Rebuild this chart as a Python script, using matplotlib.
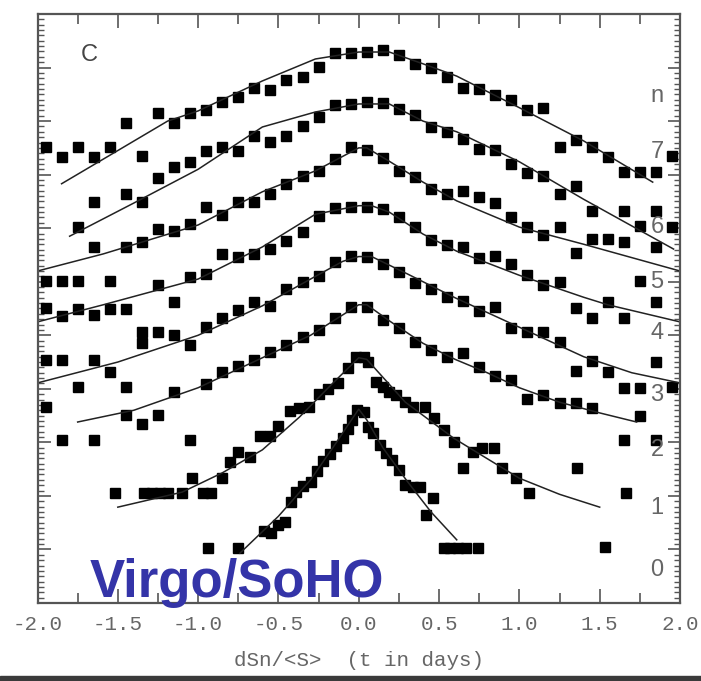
import numpy as np
import matplotlib
matplotlib.use('Agg')
import matplotlib.pyplot as plt
from matplotlib.ticker import MultipleLocator, FormatStrFormatter
from matplotlib.patches import Rectangle

# bin centres shared by the n = 2..7 profiles
bins = [-1.95, -1.85, -1.75, -1.65, -1.55, -1.45, -1.35, -1.25, -1.15, -1.05,
        -0.95, -0.85, -0.75, -0.65, -0.55, -0.45, -0.35, -0.25, -0.15, -0.05,
        0.05, 0.15, 0.25, 0.35, 0.45, 0.55, 0.65, 0.75, 0.85, 0.95,
        1.05, 1.15, 1.25, 1.35, 1.45, 1.55, 1.65, 1.75, 1.85, 1.95]
nan = np.nan

n7 = [8.52, 8.33, 8.52, 8.33, 8.52, 8.96, 8.35, 9.15, 8.96, 9.15,
      9.21, 9.36, 9.45, 9.62, 9.58, 9.77, 9.82, 10.01, 10.27, 10.27,
      10.29, 10.33, 10.23, 10.07, 9.99, 9.82, 9.62, 9.60, 9.49, 9.39,
      9.21, 9.24, 8.52, 8.65, 8.52, 8.33, 8.05, 8.05, 8.05, 8.35]
n6 = [nan, nan, 7.02, 7.49, nan, 7.64, 7.49, 7.94, 8.14, 8.24,
      8.44, 8.52, 8.44, 8.72, 8.61, 8.72, 8.91, 9.08, 9.30, 9.32,
      9.36, 9.34, 9.23, 9.11, 8.89, 8.80, 8.66, 8.48, 8.46, 8.20,
      8.03, 7.97, 7.64, 7.79, 7.32, nan, 7.32, 7.04, 7.32, 7.02]
n5 = [6.01, 6.01, 6.01, 6.65, 6.01, 6.65, 6.74, 6.98, 6.95, 7.08,
      7.39, 7.25, 7.49, 7.49, 7.64, 7.82, 7.97, 8.07, 8.29, 8.52,
      8.46, 8.31, 8.07, 7.96, 7.73, 7.64, 7.69, 7.58, 7.47, 7.21,
      7.02, 6.87, 7.02, 6.54, 6.80, 6.80, 6.74, 6.01, 6.65, nan]
n4 = [5.51, 5.36, 5.49, 5.38, 5.49, 5.49, 5.06, 5.94, 5.62, 6.09,
      6.14, 6.51, 6.47, 6.51, 6.61, 6.76, 6.92, 7.22, 7.38, 7.40,
      7.39, 7.36, 7.21, 7.02, 6.78, 6.69, 6.65, 6.44, 6.48, 6.33,
      6.13, 5.94, 5.99, 5.51, 5.32, 5.62, 5.32, nan, 5.62, nan]
n3 = [4.54, 4.54, 4.03, 4.54, 4.31, 4.03, 4.86, 5.06, 5.00, 4.82,
      5.15, 5.32, 5.47, 5.62, 5.55, 5.86, 5.99, 6.11, 6.37, 6.48,
      6.46, 6.33, 6.18, 5.98, 5.86, 5.71, 5.64, 5.45, 5.53, 5.14,
      5.06, 5.06, 4.87, 4.33, 4.52, 4.31, 4.01, 4.01, 4.50, 4.03]
n2 = [3.66, 3.04, nan, 3.04, nan, 3.51, 3.34, 3.51, 3.94, 3.04,
      4.09, 4.31, 4.42, 4.54, 4.69, 4.82, 4.96, 5.10, 5.32, 5.53,
      5.53, 5.28, 5.14, 4.87, 4.72, 4.59, 4.67, 4.41, 4.24, 4.16,
      3.81, 3.88, 3.73, 3.73, 3.64, nan, 3.04, 3.49, 3.04, nan]

# n = 1 and n = 0 are sampled more finely
n1_x = [-1.52, -1.34, -1.29, -1.24, -1.19, -1.10, -1.04, -0.97, -0.92, -0.85,
        -0.80, -0.75, -0.68, -0.615, -0.55, -0.50, -0.43, -0.37, -0.31, -0.25,
        -0.19, -0.13, -0.07, -0.02, 0.03, 0.06, 0.11, 0.15, 0.19, 0.23,
        0.29, 0.34, 0.41, 0.47, 0.53, 0.59, 0.65, 0.71, 0.77, 0.84,
        0.89, 0.98, 1.06, 1.36, 1.665]
n1_y = [2.05, 2.05, 2.05, 2.05, 2.05, 2.05, 2.33, 2.05, 2.05, 2.33,
        2.63, 2.82, 2.73, 3.12, 3.12, 3.31, 3.59, 3.64, 3.66, 3.90,
        4.00, 4.11, 4.39, 4.59, 4.59, 4.50, 4.13, 4.03, 3.94, 3.88,
        3.75, 3.66, 3.66, 3.45, 3.23, 3.01, 2.52, 2.82, 2.89, 2.89,
        2.52, 2.33, 2.05, 2.52, 2.05]
n0_x = [-0.94, -0.75, -0.59, -0.547, -0.50, -0.46, -0.42, -0.39, -0.35, -0.30,
        -0.26, -0.22, -0.18, -0.14, -0.10, -0.07, -0.04, -0.01, 0.03, 0.06,
        0.09, 0.13, 0.17, 0.21, 0.25, 0.29, 0.34, 0.38, 0.42, 0.46,
        0.53, 0.57, 0.62, 0.67, 0.74, 1.535]
n0_y = [1.03, 1.03, 1.34, 1.31, 1.46, 1.51, 1.89, 2.07, 2.18, 2.26,
        2.46, 2.65, 2.78, 2.93, 3.08, 3.25, 3.42, 3.60, 3.57, 3.29,
        3.17, 2.95, 2.80, 2.67, 2.48, 2.20, 2.17, 2.17, 1.64, 1.96,
        1.03, 1.03, 1.03, 1.03, 1.03, 1.05]

# fitted profiles
fit7_x = [-1.85, -1.5, -1.19, -1.0, -0.6, -0.27, 0.0, 0.19, 0.4, 0.61, 1.0, 1.4, 1.83]
fit7_y = [7.83, 8.45, 9.00, 9.19, 9.75, 10.16, 10.29, 10.29, 10.07, 9.84, 9.25, 8.63, 7.86]
fit6_x = [-1.8, -1.4, -1.0, -0.6, -0.27, 0.0, 0.19, 0.4, 0.61, 1.0, 1.4, 1.96]
fit6_y = [6.85, 7.47, 8.10, 8.89, 9.17, 9.32, 9.32, 9.00, 8.80, 8.24, 7.54, 6.61]
fit5_x = [-2.0, -1.59, -1.0, -0.6, -0.27, 0.0, 0.05, 0.19, 0.4, 0.61, 1.0, 1.4, 2.0]
fit5_y = [6.20, 6.52, 7.06, 7.68, 8.07, 8.50, 8.50, 8.25, 7.86, 7.51, 7.02, 6.70, 6.20]
fit4_x = [-2.0, -1.59, -1.0, -0.6, -0.27, 0.0, 0.08, 0.19, 0.4, 0.61, 1.0, 1.4, 1.55, 2.0]
fit4_y = [5.25, 5.57, 6.05, 6.65, 7.26, 7.42, 7.42, 7.30, 6.89, 6.57, 6.12, 5.71, 5.57, 5.25]
fit3_x = [-2.0, -1.5, -1.0, -0.6, -0.3, -0.1, 0.0, 0.08, 0.3, 0.6, 1.0, 1.4, 1.7, 2.0]
fit3_y = [4.11, 4.50, 5.00, 5.55, 6.05, 6.38, 6.47, 6.47, 6.15, 5.70, 5.15, 4.60, 4.30, 4.11]
fit2_x = [-1.75, -1.4, -1.0, -0.6, -0.3, -0.1, 0.0, 0.05, 0.2, 0.4, 0.6, 0.8, 1.0, 1.25, 1.5, 1.73]
fit2_y = [3.38, 3.60, 4.02, 4.58, 5.00, 5.38, 5.57, 5.57, 5.25, 4.85, 4.55, 4.30, 4.02, 3.75, 3.55, 3.38]
fit1_x = [-1.5, -1.1, -0.85, -0.6, -0.37, -0.16, 0.0, 0.05, 0.29, 0.59, 0.77, 1.0, 1.25, 1.5]
fit1_y = [1.79, 2.07, 2.43, 2.86, 3.47, 4.11, 4.58, 4.55, 3.75, 3.08, 2.75, 2.33, 2.03, 1.79]
fit0_x = [-0.74, -0.5, -0.3, -0.15, -0.05, 0.0, 0.05, 0.15, 0.3, 0.45, 0.61]
fit0_y = [0.93, 1.62, 2.30, 2.95, 3.40, 3.62, 3.42, 2.90, 2.28, 1.70, 1.18]

n_labels = ['n', '7', '6', '5', '4', '3', '2', '1', '0']
n_label_y = [9.47, 8.42, 7.02, 5.99, 5.04, 3.88, 2.86, 1.77, 0.62]

fig = plt.figure(figsize=(7.01, 6.81), dpi=100)
ax = fig.add_axes([37.5 / 701, 78 / 681, 642.5 / 701, 589 / 681])

frame = '#555555'
mk = dict(ls='none', marker='s', ms=7.3, color='black', mec='black')

for ys in [n7, n6, n5, n4, n3, n2]:
    ax.plot(bins, ys, **mk)
ax.plot(n1_x, n1_y, **mk)
ax.plot(n0_x, n0_y, **mk)

for fx, fy in [(fit7_x, fit7_y), (fit6_x, fit6_y), (fit5_x, fit5_y), (fit4_x, fit4_y),
               (fit3_x, fit3_y), (fit2_x, fit2_y), (fit1_x, fit1_y), (fit0_x, fit0_y)]:
    ax.plot(fx, fy, color='#222222', lw=1.1)

ax.set_xlim(-2.0, 2.0)
ax.set_ylim(0, 11)

ax.xaxis.set_major_locator(MultipleLocator(0.5))
ax.xaxis.set_minor_locator(MultipleLocator(0.25))
ax.xaxis.set_major_formatter(FormatStrFormatter('%.1f'))
ax.yaxis.set_major_locator(MultipleLocator(1))
ax.yaxis.set_minor_locator(MultipleLocator(0.1))
ax.tick_params(axis='both', which='both', direction='in', top=True, right=True, color=frame)
ax.tick_params(axis='x', which='major', length=10, width=1.2)
ax.tick_params(axis='x', which='minor', length=7, width=1.2)
ax.tick_params(axis='y', which='major', length=9, width=1.2)
ax.tick_params(axis='y', which='minor', length=4, width=1.0)
ax.tick_params(axis='y', labelleft=False)
ax.tick_params(axis='x', labelsize=15, labelcolor='#666666', pad=9)
for lab in ax.get_xticklabels():
    lab.set_family('Liberation Mono')
for sp in ax.spines.values():
    sp.set_color(frame)
    sp.set_linewidth(1.6)

ax.set_xlabel('dSn/<S>  (t in days)', family='Liberation Mono', fontsize=15,
              color='#666666', labelpad=12)

ax.text(-1.68, 10.23, 'C', fontsize=17, color='#444444', ha='center', va='center',
        family='Liberation Sans')
for lab, yy in zip(n_labels, n_label_y):
    ax.text(1.857, yy, lab, fontsize=17, color='#666666', ha='center', va='center',
            family='Liberation Sans')

ax.text(-1.675, 0.11, 'Virgo/SoHO', fontsize=38, fontweight='bold', color='#3434a8',
        ha='left', va='baseline', family='Liberation Sans')

fig.patches.append(Rectangle((0, 0), 1, 5 / 681, transform=fig.transFigure,
                             color='#3a3a3a', zorder=0))

fig.savefig('out.png', dpi=100)
